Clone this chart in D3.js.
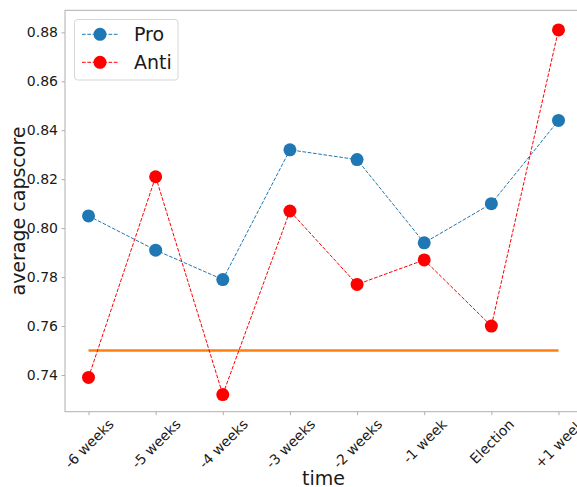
<!DOCTYPE html>
<html>
<head>
<meta charset="utf-8">
<script src="https://cdn.jsdelivr.net/npm/d3@7"></script>
<style>
  html, body { margin: 0; padding: 0; background: #fff; }
  svg { display: block; font-family: "DejaVu Sans", sans-serif; }
</style>
</head>
<body>
<svg id="chart" width="577" height="487"></svg>
<script>
// Time periods around the election
const periods = ["-6 weeks", "-5 weeks", "-4 weeks", "-3 weeks", "-2 weeks", "-1 week", "Election", "+1 week"];
// Average capscore per period
const proValues  = [0.805, 0.791, 0.779, 0.832, 0.828, 0.794, 0.810, 0.844];
const antiValues = [0.739, 0.821, 0.732, 0.807, 0.777, 0.787, 0.760, 0.881];
// Reference level drawn as a flat line
const baseline = 0.75;
const yTicks = [0.74, 0.76, 0.78, 0.80, 0.82, 0.84, 0.86, 0.88];

const svg = d3.select("#chart");
const plot = { left: 65, top: 10.3, right: 582, bottom: 411.7 };

const x = d3.scaleLinear().domain([-0.35, periods.length - 1 + 0.35]).range([plot.left, plot.right]);
const y = d3.scaleLinear().domain([0.725, 0.889]).range([plot.bottom, plot.top]);

const spineColor = "#b0b0b0";
const textColor = "#1a1a1a";

// frame
svg.append("rect")
  .attr("x", plot.left).attr("y", plot.top)
  .attr("width", plot.right - plot.left).attr("height", plot.bottom - plot.top)
  .attr("fill", "none").attr("stroke", spineColor).attr("stroke-width", 1);

// y axis
const yAxis = svg.append("g")
  .attr("transform", `translate(${plot.left},0)`)
  .call(d3.axisLeft(y).tickValues(yTicks).tickFormat(d3.format(".2f")).tickSize(3.5).tickPadding(3.5));
yAxis.select(".domain").remove();
yAxis.selectAll(".tick line").attr("stroke", spineColor);
yAxis.selectAll(".tick text").attr("fill", textColor).style("font-size", "14px").style("font-family", "DejaVu Sans");

// x axis
const xAxis = svg.append("g")
  .attr("transform", `translate(0,${plot.bottom})`)
  .call(d3.axisBottom(x).tickValues(d3.range(periods.length)).tickFormat(i => periods[i]).tickSize(3.5));
xAxis.select(".domain").remove();
xAxis.selectAll(".tick line").attr("stroke", spineColor);
xAxis.selectAll(".tick text")
  .attr("fill", textColor)
  .style("font-size", "14px").style("font-family", "DejaVu Sans")
  .attr("text-anchor", "middle")
  .attr("dy", null)
  .attr("dominant-baseline", "central")
  .each(function() {
    // rotated 45°, bounding box centred under the tick and hanging from it
    const len = this.getComputedTextLength();
    const h = 14;
    const half = (len + h) * Math.SQRT1_2 / 2;
    d3.select(this).attr("y", 5 + half).attr("x", 0)
      .attr("transform", `rotate(-45, 0, ${5 + half})`);
  });

// axis titles
svg.append("text")
  .attr("x", (plot.left + plot.right) / 2).attr("y", 485)
  .attr("text-anchor", "middle").attr("fill", textColor)
  .style("font-size", "19px").text("time");
svg.append("text")
  .attr("transform", `translate(25,${(plot.top + plot.bottom) / 2}) rotate(-90)`)
  .attr("text-anchor", "middle").attr("fill", textColor)
  .style("font-size", "19px").text("average capscore");

// baseline
svg.append("line")
  .attr("x1", x(0)).attr("x2", x(periods.length - 1))
  .attr("y1", y(baseline)).attr("y2", y(baseline))
  .attr("stroke", "#ff7f0e").attr("stroke-width", 2.5);

const series = [
  { name: "Pro", values: proValues, color: "#1f77b4" },
  { name: "Anti", values: antiValues, color: "#ff0000" }
];

const line = d3.line().x((d, i) => x(i)).y(d => y(d));

series.forEach(s => {
  const g = svg.append("g");
  g.append("path")
    .attr("d", line(s.values))
    .attr("fill", "none").attr("stroke", s.color)
    .attr("stroke-width", 1).attr("stroke-dasharray", "3.7,1.6");
  g.selectAll("circle").data(s.values).join("circle")
    .attr("cx", (d, i) => x(i)).attr("cy", d => y(d))
    .attr("r", 6.5).attr("fill", s.color);
});

// legend
const legend = svg.append("g");
legend.append("rect")
  .attr("x", 74.5).attr("y", 19.5).attr("width", 103.5).attr("height", 60.5)
  .attr("rx", 3).attr("fill", "#fff").attr("fill-opacity", 0.8)
  .attr("stroke", "#d6d6d6").attr("stroke-width", 1);
series.forEach((s, i) => {
  const cy = 34.3 + i * 28;
  legend.append("line")
    .attr("x1", 82).attr("x2", 118).attr("y1", cy).attr("y2", cy)
    .attr("stroke", s.color).attr("stroke-width", 1).attr("stroke-dasharray", "3.7,1.6");
  legend.append("circle").attr("cx", 100).attr("cy", cy).attr("r", 6.5).attr("fill", s.color);
  legend.append("text")
    .attr("x", 134).attr("y", cy).attr("dy", "0.36em")
    .attr("fill", textColor).style("font-size", "19px").text(s.name);
});
</script>
</body>
</html>
